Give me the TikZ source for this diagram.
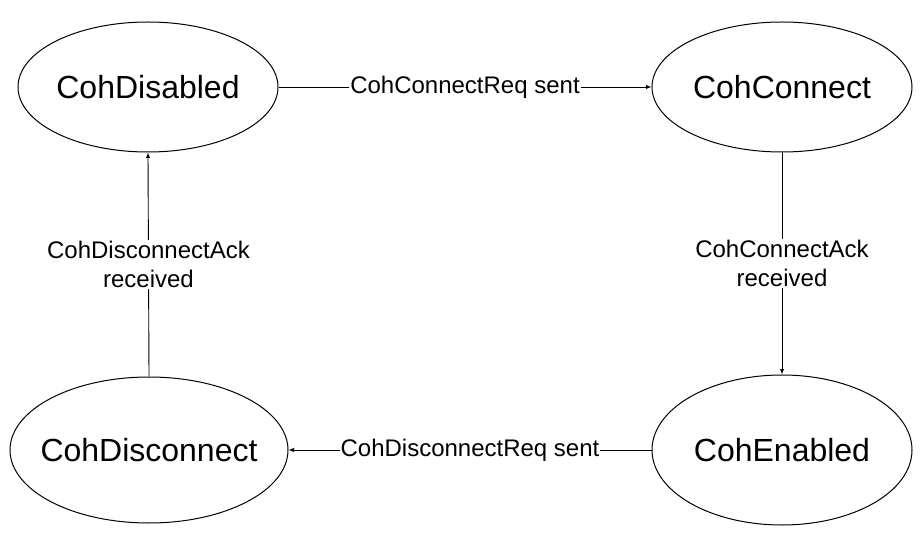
\documentclass[tikz,border=0pt]{standalone}
\usepackage{fontspec}
\setmainfont{Liberation Sans}
\usetikzlibrary{shapes.geometric}
\begin{document}
\begin{tikzpicture}[x=1pt,y=-1pt,
 st/.style={draw,ellipse,line width=1pt,inner sep=0pt,font=\fontsize{32}{36}\selectfont},
 lbl/.style={fill=white,inner sep=1pt,font=\fontsize{24}{29}\selectfont,align=center},
 ar/.style={-latex,line width=0.9pt}]
\useasboundingbox (0,0) rectangle (921,537);
\node[st,minimum width=260pt,minimum height=130pt] (dis) at (148,87) {\makebox[0pt]{CohDisabled}};
\node[st,minimum width=260pt,minimum height=130pt] (con) at (782,87) {\makebox[0pt]{CohConnect}};
\node[st,minimum width=278pt,minimum height=146pt] (dsc) at (149,450) {\makebox[0pt]{CohDisconnect}};
\node[st,minimum width=260pt,minimum height=150pt] (ena) at (782,450) {\makebox[0pt]{CohEnabled}};
\draw[ar] (dis.east) -- node[lbl] {CohConnectReq sent} (con.west);
\draw[ar] (con.south) -- node[lbl] {CohConnectAck\\received} (ena.north);
\draw[ar] (ena.west) -- node[lbl] {CohDisconnectReq sent} (dsc.east);
\draw[ar] (dsc.north) -- node[lbl] {CohDisconnectAck\\received} (dis.south);
\end{tikzpicture}
\end{document}
